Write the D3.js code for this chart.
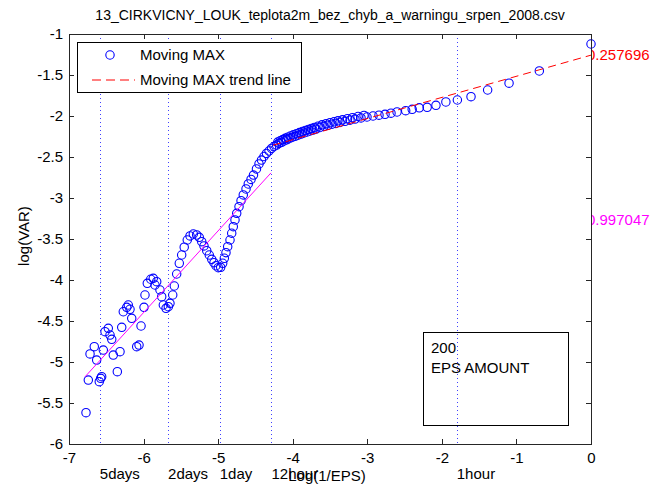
<!DOCTYPE html>
<meta charset="utf-8">

<head>
    <title>Moving MAX</title>
</head>

<style>
    body {
        margin: 0;
        background-color: #ffffff;
        font-family: "Liberation Sans", Arial, sans-serif;
    }

    .axis path {
        display: none;
    }

    .axis line {
        stroke: #262626;
        shape-rendering: crispEdges;
    }

    .axis text {
        font-size: 15px;
        fill: #000000;
    }
</style>

<body>
    <svg font-family="Liberation Sans, Arial" width="668" height="489"></svg>
</body>

<script src="https://d3js.org/d3.v7.min.js"></script>

<script>
    var titleText = "13_CIRKVICNY_LOUK_teplota2m_bez_chyb_a_warningu_srpen_2008.csv";

    // log(1/EPS) and log(VAR) of every moving max point
    var moveMaxX = [
        -6.772, -6.741, -6.718, -6.661, -6.629, -6.594, -6.575, -6.562, -6.540, -6.517,
        -6.473, -6.450, -6.427, -6.406, -6.352, -6.316, -6.293, -6.272, -6.226, -6.205,
        -6.182, -6.159, -6.092, -6.061, -6.034, -5.994, -5.981, -5.950, -5.904, -5.870,
        -5.847, -5.824, -5.780, -5.757, -5.735, -5.699, -5.668, -5.646, -5.609, -5.588,
        -5.556, -5.521, -5.489, -5.455,
        -5.414, -5.377, -5.333, -5.288, -5.253, -5.220, -5.190, -5.153, -5.119, -5.086,
        -5.056, -5.029, -4.998, -4.966, -4.939, -4.917, -4.895, -4.872, -4.841, -4.818,
        -4.797, -4.774, -4.751, -4.720, -4.693, -4.663, -4.626, -4.596, -4.559, -4.526,
        -4.486, -4.452, -4.419, -4.385, -4.352, -4.318, -4.284, -4.251,
        -4.217, -4.184, -4.150, -4.117, -4.083, -4.050, -4.010, -3.969, -3.929, -3.889,
        -3.849, -3.808, -3.768, -3.728, -3.688, -3.634, -3.580, -3.527, -3.473, -3.420,
        -3.366, -3.299, -3.232, -3.165, -3.084, -3.004, -2.923, -2.843, -2.762, -2.682,
        -2.601,
        -2.485, -2.398, -2.303, -2.197, -2.079, -1.946, -1.792, -1.609, -1.386, -1.099,
        -0.693, 0,
        // upper edge of the thick band
        -4.200, -4.167, -4.133, -4.100, -4.066, -4.030, -3.990, -3.949, -3.909, -3.869,
        -3.828, -3.788, -3.748, -3.708, -3.661, -3.607, -3.553, -3.500, -3.446, -3.393,
        -3.332, -3.265, -3.198, -3.124, -3.044
    ];
    var moveMaxY = [
        -5.618, -5.220, -4.902, -4.813, -4.976, -5.240, -5.199, -5.179, -4.854, -4.630,
        -4.589, -4.671, -4.724, -4.915, -5.118, -4.874, -4.577, -4.387, -4.333, -4.305,
        -4.357, -4.467, -4.813, -4.793, -4.561, -4.333, -4.183, -4.040, -3.991, -3.979,
        -4.061, -4.021, -4.122, -4.204, -4.305, -4.345, -4.326, -4.284, -4.183, -4.073,
        -3.927, -3.796, -3.695, -3.600,
        -3.512, -3.463, -3.439, -3.451, -3.479, -3.533, -3.585, -3.643, -3.695, -3.748,
        -3.789, -3.826, -3.850, -3.845, -3.796, -3.735, -3.667, -3.594, -3.512, -3.430,
        -3.350, -3.268, -3.187, -3.106, -3.033, -2.963, -2.890, -2.829, -2.774, -2.720,
        -2.646, -2.585, -2.537, -2.494, -2.457, -2.427, -2.396, -2.372,
        -2.354, -2.335, -2.321, -2.305, -2.290, -2.276, -2.262, -2.248, -2.234, -2.220,
        -2.207, -2.195, -2.183, -2.171, -2.159, -2.140, -2.126, -2.112, -2.100, -2.090,
        -2.079, -2.065, -2.051, -2.038, -2.024, -2.012, -2.000, -1.990, -1.979, -1.966,
        -1.951,
        -1.935, -1.918, -1.900, -1.894, -1.870, -1.829, -1.805, -1.764, -1.683, -1.600,
        -1.451, -1.122,
        -2.318, -2.302, -2.287, -2.272, -2.258, -2.244, -2.230, -2.216, -2.202, -2.189,
        -2.176, -2.164, -2.152, -2.140, -2.125, -2.108, -2.094, -2.081, -2.070, -2.059,
        -2.047, -2.033, -2.020, -2.006, -1.993
    ];

    // two fitted lines: [slope, intercept], x range
    var highFit = [0.257696, -1.258];
    var highFitRange = [-4.264, 0];
    var lowFit = [0.997047, 1.585];
    var lowFitRange = [-6.785, -4.291];

    var slopeLabels = ["0.257696", "0.997047"];
    var slopeLabelY = [-1.258, -3.268];
    var slopeColors = ["#ff0000", "#ff00ff"];

    var eventLabels = ["5days", "2days", "1day", "12hour", "1hour"];
    var eventX = [-6.587, -5.671, -4.978, -4.285, -1.80];

    var xTicks = [-7, -6, -5, -4, -3, -2, -1, 0];
    var yTicks = [-6, -5.5, -5, -4.5, -4, -3.5, -3, -2.5, -2, -1.5, -1];

    var epsAmount = 200;

    var svg = d3.select("svg"),
        margin = {
            top: 34,
            right: 77,
            bottom: 45,
            left: 69
        },
        width = +svg.attr("width") - margin.left - margin.right,
        height = +svg.attr("height") - margin.top - margin.bottom;

    var x = d3.scaleLinear().domain([-7, 0]).range([0, width]);
    var y = d3.scaleLinear().domain([-6, -1]).range([height, 0]);

    svg.append("rect")
        .attr("width", +svg.attr("width"))
        .attr("height", +svg.attr("height"))
        .attr("fill", "#ffffff");

    var g = svg.append("g")
        .attr("transform", "translate(" + margin.left + "," + margin.top + ")");

    // dotted time marks
    g.selectAll(".event")
        .data(eventX)
        .enter()
        .append("line")
        .attr("class", "event")
        .attr("x1", d => Math.round(x(d)) + 0.5)
        .attr("x2", d => Math.round(x(d)) + 0.5)
        .attr("y1", 0)
        .attr("y2", height)
        .attr("stroke", "#0000ff")
        .attr("stroke-opacity", 0.75)
        .attr("stroke-dasharray", "1,3");

    g.selectAll(".eventLabel")
        .data(eventX)
        .enter()
        .append("text")
        .attr("class", "eventLabel")
        .attr("x", d => x(d))
        .attr("y", height + 35)
        .style("font-size", "15px")
        .text((d, i) => eventLabels[i]);

    var points = moveMaxX.map((d, i) => ({ x: d, y: moveMaxY[i] }));

    g.selectAll(".dot")
        .data(points)
        .enter()
        .append("circle")
        .attr("class", "dot")
        .attr("cx", d => x(d.x))
        .attr("cy", d => y(d.y))
        .attr("r", 4.2)
        .attr("fill", "none")
        .attr("stroke", "#0000ff")
        .attr("stroke-width", 1.1);

    var line = d3.line()
        .x(d => x(d[0]))
        .y(d => y(d[1]));

    g.append("path")
        .datum(lowFitRange.map(d => [d, lowFit[0] * d + lowFit[1]]))
        .attr("d", line)
        .attr("fill", "none")
        .attr("stroke", "#ff00ff")
        .attr("stroke-width", 1);

    g.append("path")
        .datum(highFitRange.map(d => [d, highFit[0] * d + highFit[1]]))
        .attr("d", line)
        .attr("fill", "none")
        .attr("stroke", "#ff0000")
        .attr("stroke-width", 1)
        .attr("stroke-dasharray", "8,5");

    // slope labels, left edge hidden behind the axes edge like in matlab
    svg.append("clipPath")
        .attr("id", "rightClip")
        .append("rect")
        .attr("x", width + 0.5)
        .attr("y", -margin.top)
        .attr("width", margin.right)
        .attr("height", +svg.attr("height"));

    g.append("g")
        .attr("clip-path", "url(#rightClip)")
        .selectAll("text")
        .data(slopeLabels)
        .enter()
        .append("text")
        .attr("x", x(0) - 4)
        .attr("y", (d, i) => y(slopeLabelY[i]))
        .attr("dy", "0.35em")
        .attr("fill", (d, i) => slopeColors[i])
        .style("font-size", "15px")
        .text(d => d);

    // legend
    var legend = g.append("g").attr("transform", "translate(8,8)");
    legend.append("rect")
        .attr("x", 0.5)
        .attr("y", 0.5)
        .attr("width", 224)
        .attr("height", 50)
        .attr("fill", "#ffffff")
        .attr("stroke", "#000000");
    legend.append("circle")
        .attr("cx", 33)
        .attr("cy", 13)
        .attr("r", 4.2)
        .attr("fill", "none")
        .attr("stroke", "#0000ff")
        .attr("stroke-width", 1.1);
    legend.append("line")
        .attr("x1", 15)
        .attr("x2", 58)
        .attr("y1", 38)
        .attr("y2", 38)
        .attr("stroke", "#ff0000")
        .attr("stroke-dasharray", "9,5");
    legend.selectAll("text")
        .data(["Moving MAX", "Moving MAX trend line"])
        .enter()
        .append("text")
        .attr("x", 63)
        .attr("y", (d, i) => 18 + i * 25)
        .style("font-size", "15px")
        .text(d => d);

    // eps amount box
    var info = g.append("g").attr("transform", "translate(354,298)");
    info.append("rect")
        .attr("x", 0.5)
        .attr("y", 0.5)
        .attr("width", 145)
        .attr("height", 93)
        .attr("fill", "none")
        .attr("stroke", "#000000");
    info.selectAll("text")
        .data([String(epsAmount), "EPS AMOUNT"])
        .enter()
        .append("text")
        .attr("x", 8)
        .attr("y", (d, i) => 21 + i * 19.5)
        .style("font-size", "15px")
        .text(d => d);

    // axes, matlab style: inward ticks on all four sides
    g.append("g")
        .attr("class", "axis")
        .attr("transform", "translate(0," + height + ")")
        .call(d3.axisBottom(x).tickValues(xTicks).tickSizeInner(-5).tickSizeOuter(0)
            .tickPadding(8).tickFormat(d => String(d)));

    g.append("g")
        .attr("class", "axis")
        .call(d3.axisTop(x).tickValues(xTicks).tickSizeInner(-5).tickSizeOuter(0).tickFormat(""));

    g.append("g")
        .attr("class", "axis")
        .call(d3.axisLeft(y).tickValues(yTicks).tickSizeInner(-5).tickSizeOuter(0)
            .tickPadding(6).tickFormat(d => String(d)));

    g.append("g")
        .attr("class", "axis")
        .attr("transform", "translate(" + width + ",0)")
        .call(d3.axisRight(y).tickValues(yTicks).tickSizeInner(-5).tickSizeOuter(0).tickFormat(""));

    g.append("rect")
        .attr("x", 0)
        .attr("y", 0)
        .attr("width", width)
        .attr("height", height)
        .attr("fill", "none")
        .attr("stroke", "#262626")
        .style("shape-rendering", "crispEdges");

    svg.append("text")
        .attr("x", margin.left + width / 2)
        .attr("y", 20)
        .attr("text-anchor", "middle")
        .style("font-size", "14px")
        .text(titleText);

    svg.append("text")
        .attr("x", margin.left + width / 2 - 3)
        .attr("y", 481)
        .attr("text-anchor", "middle")
        .style("font-size", "15px")
        .text("Log(1/EPS)");

    svg.append("text")
        .attr("transform", "translate(29," + (margin.top + height / 2 - 3) + ") rotate(-90)")
        .attr("text-anchor", "middle")
        .style("font-size", "15px")
        .text("log(VAR)");
</script>
